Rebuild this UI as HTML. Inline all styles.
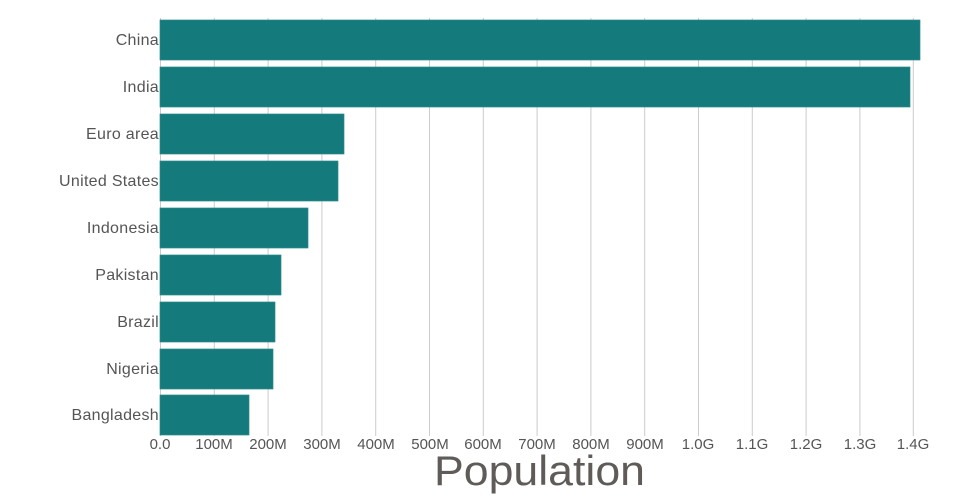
<!DOCTYPE html>
<html><head><meta charset="utf-8"><style>body{margin:0;background:#fff}svg{display:block}</style></head><body>
<svg width="960" height="500" viewBox="0 0 960 500" xmlns="http://www.w3.org/2000/svg" font-family="Liberation Sans, sans-serif">
<g stroke="#cccccc" stroke-width="1">
<line x1="160.5" y1="18" x2="160.5" y2="436"/>
<line x1="214.3" y1="18" x2="214.3" y2="436"/>
<line x1="268.1" y1="18" x2="268.1" y2="436"/>
<line x1="321.9" y1="18" x2="321.9" y2="436"/>
<line x1="375.7" y1="18" x2="375.7" y2="436"/>
<line x1="429.5" y1="18" x2="429.5" y2="436"/>
<line x1="483.3" y1="18" x2="483.3" y2="436"/>
<line x1="537.1" y1="18" x2="537.1" y2="436"/>
<line x1="590.9" y1="18" x2="590.9" y2="436"/>
<line x1="644.7" y1="18" x2="644.7" y2="436"/>
<line x1="698.5" y1="18" x2="698.5" y2="436"/>
<line x1="752.3" y1="18" x2="752.3" y2="436"/>
<line x1="806.1" y1="18" x2="806.1" y2="436"/>
<line x1="859.9" y1="18" x2="859.9" y2="436"/>
<line x1="913.3" y1="18" x2="913.3" y2="436"/>
</g>
<g fill="#157a7c" stroke="#2a8a8a" stroke-width="0.7">
<rect x="160" y="20" width="760" height="40"/>
<rect x="160" y="67" width="750" height="40"/>
<rect x="160" y="114" width="184" height="40"/>
<rect x="160" y="161" width="178" height="40"/>
<rect x="160" y="208" width="148" height="40"/>
<rect x="160" y="255" width="121" height="40"/>
<rect x="160" y="302" width="115" height="40"/>
<rect x="160" y="349" width="113" height="40"/>
<rect x="160" y="395" width="89" height="40"/>
</g>
<g fill="#555" font-size="16" text-anchor="end" letter-spacing="0.3">
<text x="159" y="45">China</text>
<text x="159" y="92">India</text>
<text x="159" y="139">Euro area</text>
<text x="159" y="186">United States</text>
<text x="159" y="233">Indonesia</text>
<text x="159" y="280">Pakistan</text>
<text x="159" y="327">Brazil</text>
<text x="159" y="374">Nigeria</text>
<text x="159" y="420">Bangladesh</text>
</g>
<g fill="#555" font-size="15" text-anchor="middle">
<text x="160" y="449">0.0</text>
<text x="214" y="449">100M</text>
<text x="268" y="449">200M</text>
<text x="322" y="449">300M</text>
<text x="376" y="449">400M</text>
<text x="430" y="449">500M</text>
<text x="483" y="449">600M</text>
<text x="537" y="449">700M</text>
<text x="591" y="449">800M</text>
<text x="645" y="449">900M</text>
<text x="698" y="449">1.0G</text>
<text x="752" y="449">1.1G</text>
<text x="806" y="449">1.2G</text>
<text x="860" y="449">1.3G</text>
<text x="913" y="449">1.4G</text>
</g>
<text x="434" y="485" font-size="42" fill="#5f5b58" textLength="211" lengthAdjust="spacingAndGlyphs">Population</text>
</svg>
</body></html>
